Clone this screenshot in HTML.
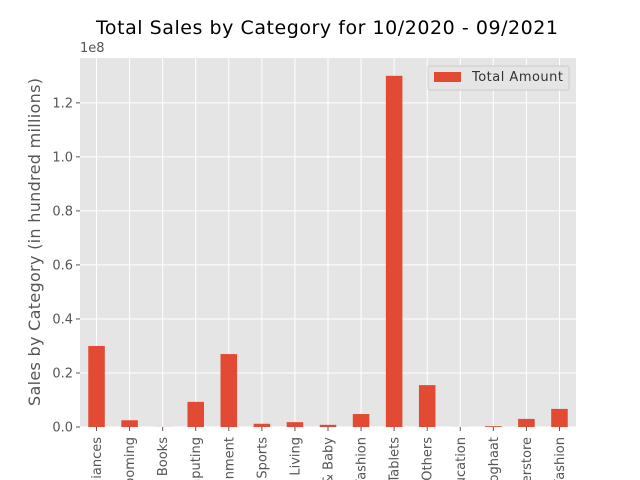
<!DOCTYPE html>
<html><head><meta charset="utf-8"><style>
html,body{margin:0;background:#fff;width:640px;height:480px;overflow:hidden;}
svg{font-family:"DejaVu Sans","Liberation Sans",sans-serif;display:block;}
</style></head><body>
<svg id="chart" width="640" height="480">
<rect x="0" y="0" width="640" height="480" fill="#fff"/>
<rect x="80" y="58" width="496" height="369" fill="#e5e5e5"/>
<g id="grid"></g>
<g id="bars"></g>
<g id="xt"></g>
<g id="yt"></g>
<text x="327" y="34" font-size="19" text-anchor="middle" fill="#000" textLength="462">Total Sales by Category for 10/2020 - 09/2021</text>
<text x="80" y="52" font-size="13" fill="#555">1e8</text>
<text transform="translate(40,242) rotate(-90)" font-size="16" text-anchor="middle" fill="#555" textLength="328">Sales by Category (in hundred millions)</text>
<g>
<rect x="428" y="66" width="141" height="24" fill="#e5e5e5" stroke="#ccc" stroke-width="1" rx="2"/>
<rect x="434" y="72" width="27" height="10" fill="#e24a33"/>
<text x="472" y="81" font-size="13" fill="#333" textLength="91">Total Amount</text>
</g>
</svg>
<script>
const categories=["Appliances","Beauty & Grooming","Books","Computing","Entertainment","Health & Sports","Home & Living","Kids & Baby","Men's Fashion","Mobiles & Tablets","Others","School & Education","Soghaat","Superstore","Women's Fashion"];
const values=[0.30,0.025,0.0003,0.093,0.27,0.012,0.018,0.008,0.048,1.30,0.155,0.0002,0.003,0.03,0.067];
const yTicks=[0,0.2,0.4,0.6,0.8,1.0,1.2];
const yTickLabels=["0.0","0.2","0.4","0.6","0.8","1.0","1.2"];
const NS="http://www.w3.org/2000/svg";
const x0=80,x1=576,yB=427,yT=58,yMax=1.366;
const xs=i=>x0+(i+0.5)*(x1-x0)/categories.length;
const ys=v=>yB-v/yMax*(yB-yT);
const g=document.getElementById('grid'),b=document.getElementById('bars'),xt=document.getElementById('xt'),yt=document.getElementById('yt');
function mk(t,a){const e=document.createElementNS(NS,t);for(const k in a)e.setAttribute(k,a[k]);return e;}
yTicks.forEach((v,i)=>{
 const l=mk('line',{x1:x0,x2:x1,y1:ys(v),y2:ys(v),stroke:'#fff','stroke-width':1});
 
 
 g.appendChild(l);
 const tk=mk('line',{x1:x0-4,x2:x0,y1:ys(v),y2:ys(v),stroke:'#555'});
 yt.appendChild(tk);
 const t=mk('text',{x:x0-7,y:ys(v)+4.5,'font-size':13,'text-anchor':'end',fill:'#555'});
 t.textContent=yTickLabels[i];
 
 
 yt.appendChild(t);
});
const bw=(x1-x0)/categories.length*0.5;
categories.forEach((c,i)=>{
 const x=xs(i);
 const gl=mk('line',{x1:x,x2:x,y1:yT,y2:yB,stroke:'#fff','stroke-width':1});
 g.appendChild(gl);
 const r=mk('rect',{x:x-bw/2,y:ys(values[i]),width:bw,height:yB-ys(values[i]),fill:'#e24a33'});
 
 
 b.appendChild(r);
 xt.appendChild(mk('line',{x1:x,x2:x,y1:yB,y2:yB+4,stroke:'#555'}));
 const t=mk('text',{transform:`translate(${x+4.5},437) rotate(-90)`,'font-size':13,'text-anchor':'end',fill:'#555'});
 t.textContent=c;
 
 
 xt.appendChild(t);
});
</script>
</body></html>
